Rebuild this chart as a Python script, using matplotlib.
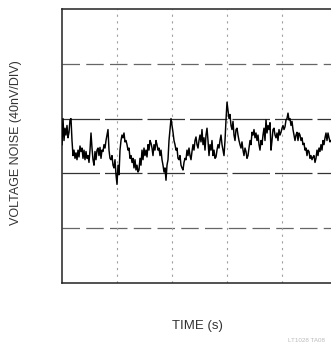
import matplotlib
matplotlib.use("Agg")
import numpy as np
import matplotlib.pyplot as plt

# voltage noise trace, nV (one sample every 1/55 s)
noise_nv = [
    1, 20, 4, 13, 8, 15, 6, 10, 19, 20, 4, -7, -3, -9, -5, -10, -3, -8, 0, -4,
    -1.5, -9, -3, -10, -4, -9, -7, -12, -3, 9.5, -1.5, -10, -14, -4, -10, -3, -1.5, -7, -1, -9,
    -3, -4, 1, -1.5, 4, 8, 12, -3, -9, -10, -7, -14, -16, -10, -21, -28, -14, -21, -3, 4,
    8, 6, 9.5, 3, 4, 1, -3, -1.5, -9, -7, -12, -9, -16, -10, -17.5, -14, -19, -17.5, -9, -14,
    -3, -10, -1.5, -7, -3, -8, 1, -3, 4, 2, -1.5, -7, 1, -3, 4, 1, -3, -1.5, -7, -3,
    -10, -14, -19, -16, -25, -14, -10, 4, 12, 20, 15, 10, 4, 1, -3, -1.5, -9, -10, -7, -14,
    -16, -17.5, -12, -9, -10, -3, -7, -1.5, -7, -10, -4, 1, -3, 4, 6.6, 1, -1.5, 4, 8, 3,
    12, 1, 6, -3, 8, 13, 4, -7, 1, -3, 4, -7, -3, -9, -8, -3, 1, -1.5, 4, 8,
    1, -3, -7, 4, 19, 32, 26, 20, 23, 15, 12, 18, 8, 4, 12, 13, 8, 4, 1, -1.5,
    3, -3, -7, -1.5, -4, -9, -7, -1.5, 4, 1, 10, 8, 12, 6, 9.5, 4, 8, 1, -3, 4,
    1, 8, 13, 4, 19, 9.5, 15, 12, 17, -3, 4, 12, 13, 8, 6, 9.5, 4, 12, 8, 10,
    13, 15, 12, 14, 19, 20, 24, 19, 20, 15, 18, 12, 8, 4, 8, 10, 4, 9.5, 8, 4,
    6, 1, 2, -3, -1.5, -7, -3, -4, -9, -7, -10, -8, -7, -12, -9, -3, -7, -1.5, -4, 1,
    -3, 4, 1, 6, 9.5, 4, 9.5, 6, 3, 4,
]
SAMPLE_RATE = 55      # samples per second
SEC_PER_DIV = 1.0
NV_PER_DIV = 40
N_XDIV = 5
N_YDIV = 5

t = np.arange(len(noise_nv)) / SAMPLE_RATE

fig = plt.figure(figsize=(3.31, 3.5), dpi=100)
# plot frame runs past the right edge of the scanned page
ax = fig.add_axes([62 / 331, 67 / 350, 275 / 331, 274 / 350])

ax.set_xlim(0, N_XDIV * SEC_PER_DIV)
ax.set_ylim(-N_YDIV * NV_PER_DIV / 2, N_YDIV * NV_PER_DIV / 2)

yg = np.arange(N_YDIV + 1) * NV_PER_DIV - N_YDIV * NV_PER_DIV / 2
xg = np.arange(N_XDIV + 1) * SEC_PER_DIV
for i, y in enumerate(yg[1:-1]):
    inner = i in (1, 2)
    ax.axhline(y, color="#333333" if inner else "#666666", lw=0.9,
               ls=(0, (30, 4)) if inner else (0, (14, 5)), zorder=1)
for x in xg[1:-1]:
    ax.axvline(x, color="#a0a0a0", lw=0.8, ls=(0, (2, 4)), zorder=1)

ax.plot(t, noise_nv, color="black", lw=1.05, zorder=3)

ax.set_xticks([])
ax.set_yticks([])
for side in ["left", "bottom", "top", "right"]:
    ax.spines[side].set_color("#222222")
    ax.spines[side].set_linewidth(1.1)

font = ["Liberation Sans Narrow", "Liberation Sans", "DejaVu Sans"]
fig.text(16 / 331, 1 - 143 / 350, "VOLTAGE NOISE (40nV/DIV)", rotation=90,
         ha="center", va="center", fontsize=9, color="#333333", family=font)
fig.text(197 / 331, 1 - 326 / 350, "TIME (s)", ha="center", va="center",
         fontsize=9.5, color="#333333", family=font)
fig.text(325 / 331, 1 - 340 / 350, "LT1028 TA08", ha="right", va="center",
         fontsize=4.5, color="#bbbbbb", family=font)

plt.savefig("out.png", dpi=100)
plt.close()
